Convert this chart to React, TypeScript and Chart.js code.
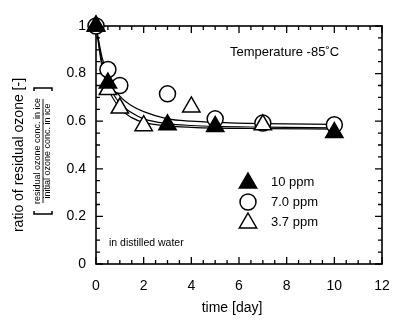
import React, { useEffect, useRef } from "react";
import { Chart, registerables } from "chart.js";

Chart.register(...registerables);

// ---- data ----
const days10 = [0, 0.5, 3, 5, 10];
const ratio10 = [1.0, 0.76, 0.585, 0.578, 0.552];

const days70 = [0, 0.5, 1, 3, 5, 7, 10];
const ratio70 = [1.0, 0.817, 0.75, 0.715, 0.61, 0.592, 0.585];

const days37 = [0, 0.5, 1, 2, 4, 7];
const ratio37 = [1.0, 0.733, 0.655, 0.581, 0.66, 0.585];

// fitted curves
const fitDays = [0, 0.25, 0.5, 1, 1.5, 2, 3, 4, 5, 7, 10];
const fitUpper = [1, 0.87, 0.79, 0.705, 0.665, 0.64, 0.61, 0.6, 0.595, 0.59, 0.587];
const fitMiddle = [1, 0.85, 0.76, 0.675, 0.635, 0.61, 0.59, 0.582, 0.578, 0.575, 0.572];
const fitLower = [1, 0.83, 0.74, 0.655, 0.615, 0.595, 0.58, 0.574, 0.571, 0.569, 0.567];

const xTickLabels = [0, 2, 4, 6, 8, 10, 12];
const yTickLabels = [0, 0.2, 0.4, 0.6, 0.8, 1];
const xMinorStep = 0.5;
const yMinorStep = 0.05;

const legendLabels = ["10 ppm", "7.0 ppm", "3.7 ppm"];
const FONT = "'Liberation Sans', Arial, Helvetica, sans-serif";

const toXY = (xs: number[], ys: number[]) => xs.map((x, i) => ({ x, y: ys[i] }));

const decorPlugin = {
  id: "decor",
  beforeDatasetsDraw(chart: any) {
    const { ctx, chartArea, scales } = chart;
    const xs = scales.x;
    const ys = scales.y;
    const { left, right, top, bottom } = chartArea;
    ctx.save();
    ctx.strokeStyle = "#000";
    ctx.fillStyle = "#000";
    // frame
    ctx.lineWidth = 1.6;
    ctx.strokeRect(left, top, right - left, bottom - top);
    // ticks
    ctx.lineWidth = 1.3;
    ctx.beginPath();
    for (let v = 0; v <= 12 + 1e-9; v += xMinorStep) {
      const major = Math.abs(v / 2 - Math.round(v / 2)) < 1e-6;
      const len = major ? 7 : 4;
      const px = xs.getPixelForValue(v);
      ctx.moveTo(px, bottom);
      ctx.lineTo(px, bottom - len);
      ctx.moveTo(px, top);
      ctx.lineTo(px, top + len);
    }
    for (let v = 0; v <= 1 + 1e-9; v += yMinorStep) {
      const major = Math.abs(v / 0.2 - Math.round(v / 0.2)) < 1e-6;
      const len = major ? 7 : 4;
      const py = ys.getPixelForValue(v);
      ctx.moveTo(left, py);
      ctx.lineTo(left + len, py);
      ctx.moveTo(right, py);
      ctx.lineTo(right - len, py);
    }
    ctx.stroke();

    // annotations
    ctx.textBaseline = "middle";
    ctx.textAlign = "left";
    ctx.font = `13px ${FONT}`;
    ctx.fillText("Temperature -85\u02DAC", 230, 52);
    ctx.font = `10.5px ${FONT}`;
    ctx.fillText("in distilled water", 109, 243);

    // legend
    const lx = 248;
    const ly = [182, 202, 222];
    ctx.font = `13px ${FONT}`;
    const tri = (cx: number, cy: number, r: number, fill: boolean) => {
      ctx.beginPath();
      ctx.moveTo(cx, cy - r);
      ctx.lineTo(cx + r * 0.866, cy + r * 0.5);
      ctx.lineTo(cx - r * 0.866, cy + r * 0.5);
      ctx.closePath();
      ctx.fillStyle = fill ? "#000" : "#fff";
      ctx.fill();
      ctx.lineWidth = 1.5;
      ctx.stroke();
    };
    tri(lx, ly[0] + 1, 10, true);
    ctx.beginPath();
    ctx.arc(lx, ly[1], 8, 0, Math.PI * 2);
    ctx.fillStyle = "#fff";
    ctx.fill();
    ctx.lineWidth = 1.5;
    ctx.stroke();
    tri(lx, ly[2] + 1, 10, false);
    ctx.fillStyle = "#000";
    legendLabels.forEach((t, i) => ctx.fillText(t, 271, ly[i]));

    // axis titles
    ctx.textAlign = "center";
    ctx.font = `14px ${FONT}`;
    ctx.fillText("time [day]", 232, 308);

    ctx.save();
    ctx.translate(19, 155);
    ctx.rotate(-Math.PI / 2);
    ctx.fillText("ratio of residual ozone [-]", 0, 0);
    ctx.restore();

    // fraction label
    ctx.save();
    ctx.translate(43, 151);
    ctx.rotate(-Math.PI / 2);
    ctx.font = `9px ${FONT}`;
    ctx.fillText("residual ozone conc. in ice", 0, -5);
    ctx.fillText("initial ozone conc. in ice", 0, 5);
    ctx.lineWidth = 0.9;
    ctx.beginPath();
    ctx.moveTo(-52, 0);
    ctx.lineTo(52, 0);
    ctx.stroke();
    // brackets
    ctx.lineWidth = 1.5;
    ctx.beginPath();
    ctx.moveTo(-60, -9);
    ctx.lineTo(-63, -9);
    ctx.lineTo(-63, 9);
    ctx.lineTo(-60, 9);
    ctx.moveTo(60, -9);
    ctx.lineTo(63, -9);
    ctx.lineTo(63, 9);
    ctx.lineTo(60, 9);
    ctx.stroke();
    ctx.restore();

    ctx.restore();
  },
};

export default function App() {
  const ref = useRef<HTMLCanvasElement | null>(null);
  useEffect(() => {
    if (!ref.current) return;
    const lineDs = (data: number[]) => ({
      data: toXY(fitDays, data),
      showLine: true,
      borderColor: "#000",
      borderWidth: 1.2,
      pointRadius: 0,
      cubicInterpolationMode: "monotone" as const,
      fill: false,
      order: 10,
      clip: false as any,
    });
    const chart = new Chart(ref.current, {
      type: "scatter",
      data: {
        datasets: [
          lineDs(fitUpper),
          lineDs(fitMiddle),
          lineDs(fitLower),
          {
            data: toXY(days70, ratio70),
            pointStyle: "circle",
            pointRadius: 8,
            pointBackgroundColor: "#fff",
            pointBorderColor: "#000",
            pointBorderWidth: 1.5,
            showLine: false,
            order: 5,
            clip: false as any,
          },
          {
            data: toXY(days37, ratio37),
            pointStyle: "triangle",
            pointRadius: 10,
            pointBackgroundColor: "#fff",
            pointBorderColor: "#000",
            pointBorderWidth: 1.5,
            showLine: false,
            order: 3,
            clip: false as any,
          },
          {
            data: toXY(days10, ratio10),
            pointStyle: "triangle",
            pointRadius: 10,
            pointBackgroundColor: "#000",
            pointBorderColor: "#000",
            pointBorderWidth: 1.5,
            showLine: false,
            order: 1,
            clip: false as any,
          },
        ],
      },
      options: {
        responsive: false,
        animation: false,
        devicePixelRatio: 1,
        layout: { padding: { left: 0, top: 26, right: 36, bottom: 0 } },
        plugins: {
          legend: { display: false },
          tooltip: { enabled: false },
          title: { display: false },
        },
        scales: {
          x: {
            type: "linear",
            min: 0,
            max: 12,
            afterFit: (s: any) => {
              s.height = 59;
            },
            afterBuildTicks: (s: any) => {
              s.ticks = xTickLabels.map((v) => ({ value: v }));
            },
            grid: { display: false, drawTicks: false },
            border: { display: false },
            ticks: {
              color: "#000",
              padding: 14,
              font: { family: FONT, size: 14 },
              callback: (v: any) => String(v),
            },
          },
          y: {
            type: "linear",
            min: 0,
            max: 1,
            afterFit: (s: any) => {
              s.width = 96;
            },
            afterBuildTicks: (s: any) => {
              s.ticks = yTickLabels.map((v) => ({ value: v }));
            },
            grid: { display: false, drawTicks: false },
            border: { display: false },
            ticks: {
              color: "#000",
              padding: 10,
              font: { family: FONT, size: 14 },
              callback: (v: any) => String(Math.round(v * 10) / 10),
            },
          },
        },
      },
      plugins: [decorPlugin],
    });
    return () => chart.destroy();
  }, []);
  return (
    <div style={{ position: "absolute", left: 0, top: 0, width: 418, height: 323, background: "#fff" }}>
      <canvas ref={ref} width={418} height={323} />
    </div>
  );
}
